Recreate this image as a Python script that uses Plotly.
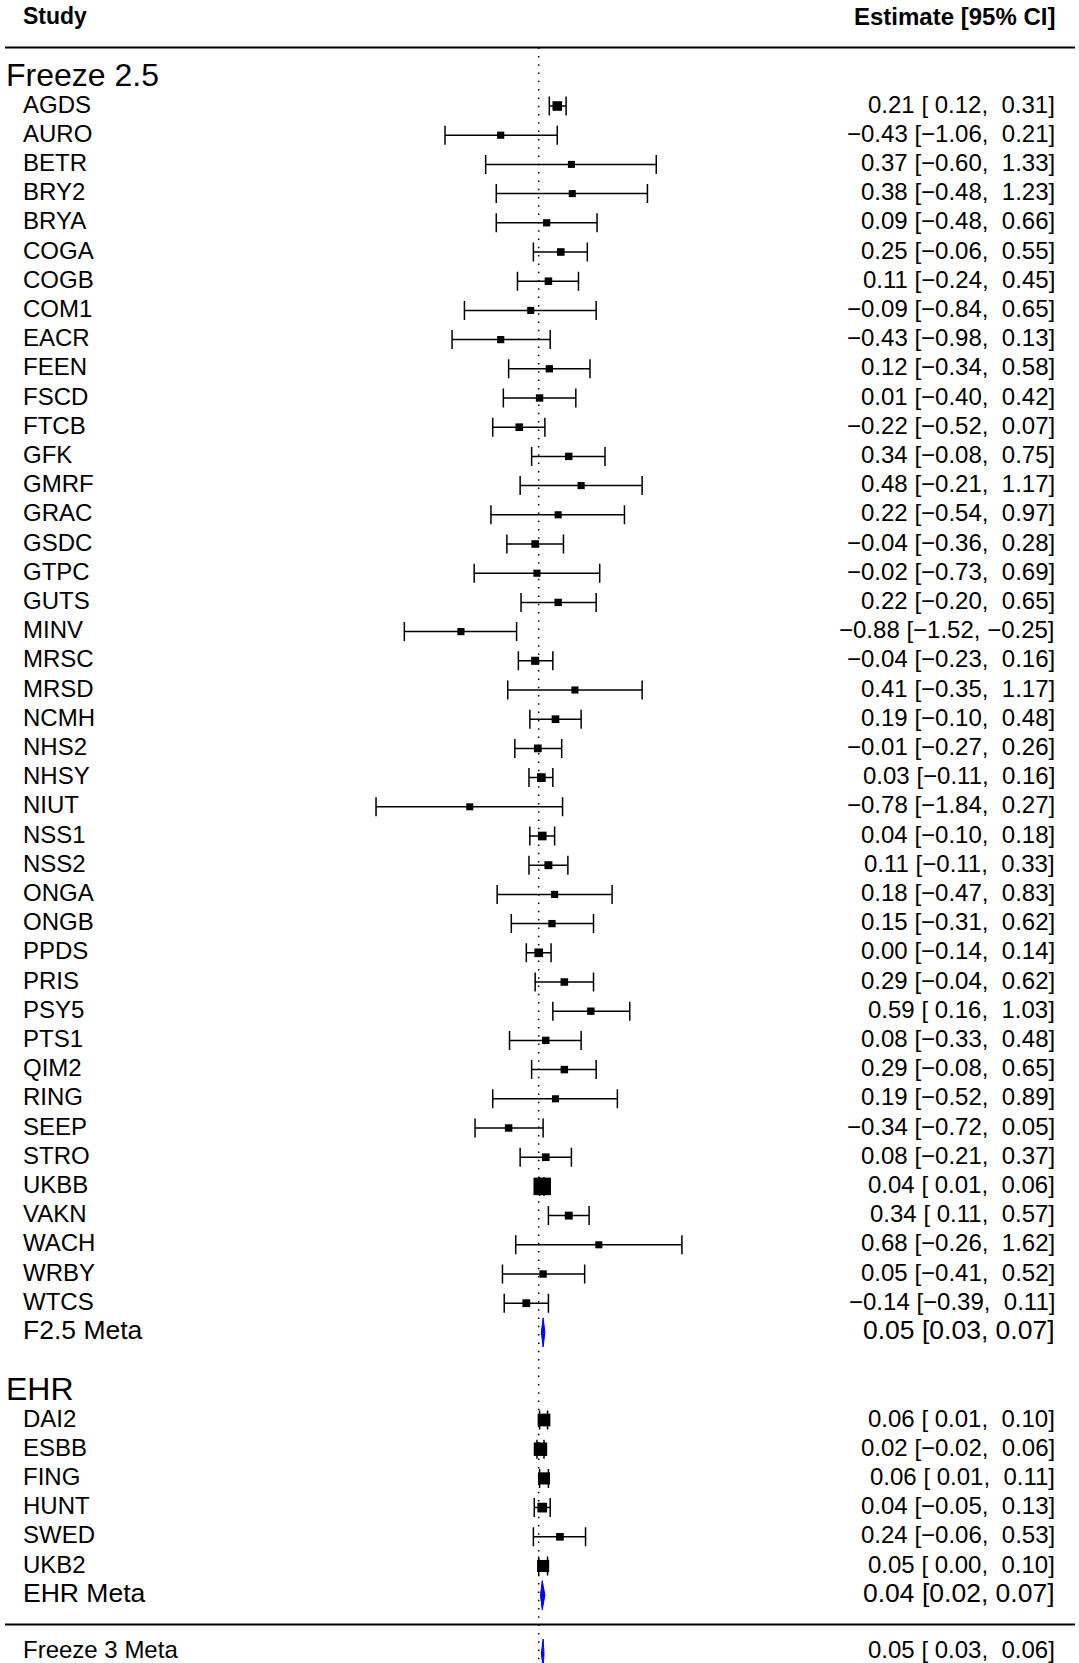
import plotly.graph_objects as go

# ---------------- data ----------------
f25_studies = ["AGDS", "AURO", "BETR", "BRY2", "BRYA", "COGA", "COGB", "COM1", "EACR", "FEEN",
               "FSCD", "FTCB", "GFK", "GMRF", "GRAC", "GSDC", "GTPC", "GUTS", "MINV", "MRSC",
               "MRSD", "NCMH", "NHS2", "NHSY", "NIUT", "NSS1", "NSS2", "ONGA", "ONGB", "PPDS",
               "PRIS", "PSY5", "PTS1", "QIM2", "RING", "SEEP", "STRO", "UKBB", "VAKN", "WACH",
               "WRBY", "WTCS"]
f25_est = [0.21, -0.43, 0.37, 0.38, 0.09, 0.25, 0.11, -0.09, -0.43, 0.12,
           0.01, -0.22, 0.34, 0.48, 0.22, -0.04, -0.02, 0.22, -0.88, -0.04,
           0.41, 0.19, -0.01, 0.03, -0.78, 0.04, 0.11, 0.18, 0.15, 0.00,
           0.29, 0.59, 0.08, 0.29, 0.19, -0.34, 0.08, 0.04, 0.34, 0.68,
           0.05, -0.14]
f25_lo = [0.12, -1.06, -0.60, -0.48, -0.48, -0.06, -0.24, -0.84, -0.98, -0.34,
          -0.40, -0.52, -0.08, -0.21, -0.54, -0.36, -0.73, -0.20, -1.52, -0.23,
          -0.35, -0.10, -0.27, -0.11, -1.84, -0.10, -0.11, -0.47, -0.31, -0.14,
          -0.04, 0.16, -0.33, -0.08, -0.52, -0.72, -0.21, 0.01, 0.11, -0.26,
          -0.41, -0.39]
f25_hi = [0.31, 0.21, 1.33, 1.23, 0.66, 0.55, 0.45, 0.65, 0.13, 0.58,
          0.42, 0.07, 0.75, 1.17, 0.97, 0.28, 0.69, 0.65, -0.25, 0.16,
          1.17, 0.48, 0.26, 0.16, 0.27, 0.18, 0.33, 0.83, 0.62, 0.14,
          0.62, 1.03, 0.48, 0.65, 0.89, 0.05, 0.37, 0.06, 0.57, 1.62,
          0.52, 0.11]
f25_meta = [0.05, 0.03, 0.07]  # estimate, lower, upper

ehr_studies = ["DAI2", "ESBB", "FING", "HUNT", "SWED", "UKB2"]
ehr_est = [0.06, 0.02, 0.06, 0.04, 0.24, 0.05]
ehr_lo = [0.01, -0.02, 0.01, -0.05, -0.06, 0.00]
ehr_hi = [0.10, 0.06, 0.11, 0.13, 0.53, 0.10]
ehr_meta = [0.04, 0.02, 0.07]

overall_meta = [0.05, 0.03, 0.06]

group_titles = ["Freeze 2.5", "EHR"]
meta_labels = ["F2.5 Meta", "EHR Meta", "Freeze 3 Meta"]
header_left = "Study"
header_right = "Estimate [95% CI]"

# ---------------- styling / layout ----------------
W, H = 1079, 1663
FONT = "Liberation Sans, Arial, Helvetica, sans-serif"
ROW0_PX, ROW_PX = 76.8, 29.2          # pixel of row 0 and row spacing
ZERO_PX, UNIT_PX = 538.7, 88.4        # pixel of x=0 and px per unit
yr = [(H - ROW0_PX) / ROW_PX, -ROW0_PX / ROW_PX]
xr = [-ZERO_PX / UNIT_PX, (W - ZERO_PX) / UNIT_PX]
RIGHT_PX = 1056
YSHIFT = 2


def fmt(v):
    return f"{v:.2f}".replace("-", "\u2212")


def fmt_pad(v):
    s = fmt(v)
    return (" " + s) if v >= 0 else s


def ci(e, l, h, pad):
    f = fmt_pad if pad else fmt
    return f"{fmt(e)} [{f(l)}, {f(h)}]"


# rows
rows_f25 = list(range(1, 1 + len(f25_studies)))
row_f25_meta = rows_f25[-1] + 1
row_ehr_title = row_f25_meta + 2
rows_ehr = list(range(row_ehr_title + 1, row_ehr_title + 1 + len(ehr_studies)))
row_ehr_meta = rows_ehr[-1] + 1
row_rule = row_ehr_meta + 1
row_overall = row_rule + 1

all_est = f25_est + ehr_est
all_lo = f25_lo + ehr_lo
all_hi = f25_hi + ehr_hi
all_rows = rows_f25 + rows_ehr
all_names = f25_studies + ehr_studies

# square size from precision (1/CI width), as metafor does
prec = [1.0 / (h - l) for l, h in zip(all_lo, all_hi)]
pmin, pmax = min(prec), max(prec)
sizes = [7.0 + 10.5 * (p - pmin) / (pmax - pmin) for p in prec]

fig = go.Figure()

# dotted zero line
fig.add_trace(go.Scatter(x=[0, 0], y=[-1, yr[0]], mode="lines",
                         line=dict(color="black", width=1.5, dash="1.5px,6.8px"),
                         hoverinfo="skip", showlegend=False))

# studies: CI + squares
fig.add_trace(go.Scatter(
    x=all_est, y=all_rows, mode="markers",
    marker=dict(symbol="square", size=sizes, color="black", opacity=1, line=dict(width=0)),
    error_x=dict(type="data", symmetric=False,
                 array=[h - e for e, h in zip(all_est, all_hi)],
                 arrayminus=[e - l for e, l in zip(all_est, all_lo)],
                 width=9.5, thickness=1.5, color="black"),
    hoverinfo="skip", showlegend=False))

# diamonds
HALF = 0.5
for (e, l, h), r in zip([f25_meta, ehr_meta, overall_meta], [row_f25_meta, row_ehr_meta, row_overall]):
    fig.add_trace(go.Scatter(x=[l, e, h, e, l], y=[r, r - HALF, r, r + HALF, r],
                             mode="lines", fill="toself", fillcolor="blue",
                             line=dict(color="blue", width=1),
                             hoverinfo="skip", showlegend=False))

ann = []


def left(text, row, px, size, bold=False, extra=0):
    ann.append(dict(x=px / W, xref="paper", y=row, yref="y", text=f"<b>{text}</b>" if bold else text,
                    xanchor="left", yanchor="middle", showarrow=False, yshift=YSHIFT + extra,
                    borderpad=0, font=dict(family=FONT, size=size, color="black")))


def right(text, row, size, bold=False, extra=0):
    ann.append(dict(x=RIGHT_PX / W, xref="paper", y=row, yref="y", text=f"<b>{text}</b>" if bold else text,
                    xanchor="right", yanchor="middle", showarrow=False, yshift=YSHIFT + extra,
                    borderpad=0, font=dict(family=FONT, size=size, color="black")))


left(header_left, -2, 22, 23, bold=True)
right(header_right, -2, 24, bold=True)
left(group_titles[0], 0, 5, 32)
left(group_titles[1], row_ehr_title, 5, 32)

for name, e, l, h, r in zip(all_names, all_est, all_lo, all_hi, all_rows):
    left(name, r, 22, 24)
    right(ci(e, l, h, True).replace(" ", "\u00a0"), r, 24)

for lab, (e, l, h), r, sz, pad, ex in zip(meta_labels, [f25_meta, ehr_meta, overall_meta],
                                          [row_f25_meta, row_ehr_meta, row_overall],
                                          [26.5, 26.5, 24], [False, False, True], [0, 0, 2]):
    left(lab, r, 22, sz, extra=ex)
    right(ci(e, l, h, pad).replace(" ", "\u00a0"), r, sz, extra=ex)

shapes = []
for r in [-1, row_rule]:
    shapes.append(dict(type="line", xref="paper", yref="y", x0=5 / W, x1=1075 / W, y0=r, y1=r,
                       line=dict(color="black", width=2)))

fig.update_layout(
    width=W, height=H, autosize=False,
    margin=dict(l=0, r=0, t=0, b=0, pad=0),
    paper_bgcolor="white", plot_bgcolor="white",
    xaxis=dict(range=xr, visible=False, fixedrange=True),
    yaxis=dict(range=yr, visible=False, fixedrange=True),
    annotations=ann, shapes=shapes, showlegend=False,
)

fig.write_html("out.html", config={"displayModeBar": False},
               post_script="document.body.style.margin='0px';document.body.style.padding='0px';"
                           "document.body.style.overflow='hidden';")
